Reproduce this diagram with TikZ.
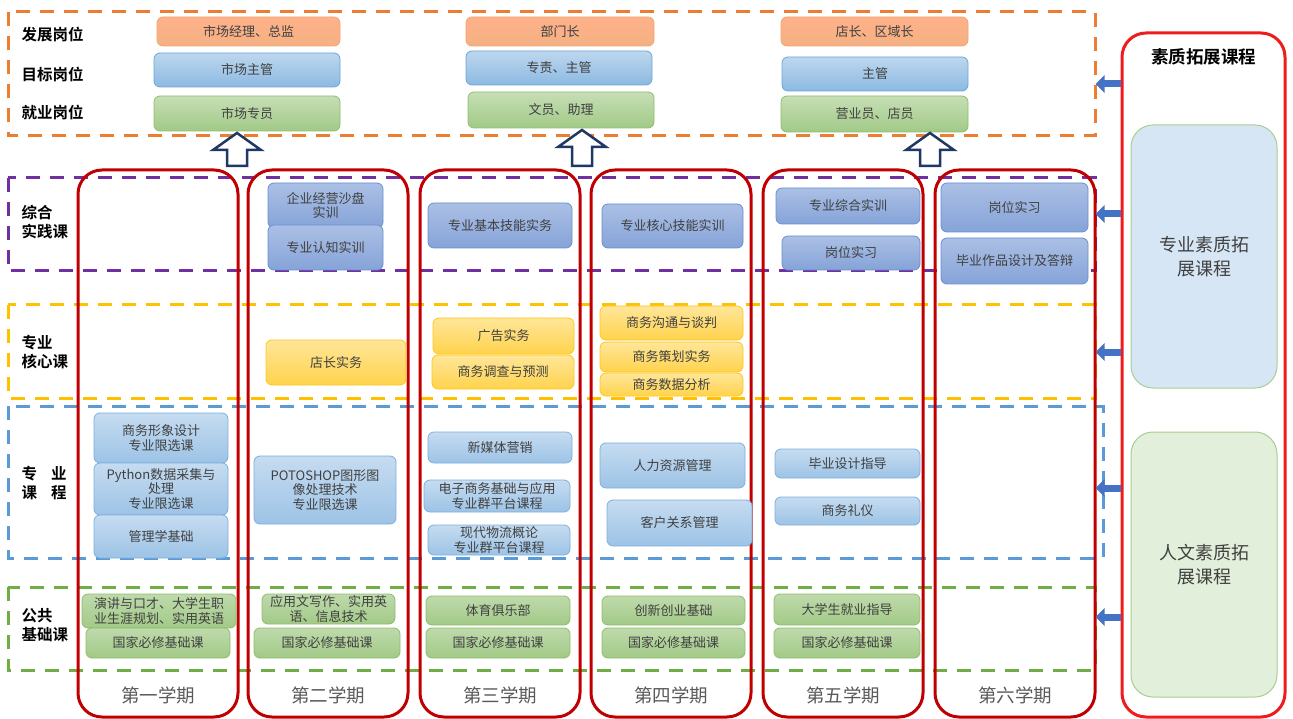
\documentclass[tikz,border=0pt]{standalone}
\usepackage{fontspec}
\setmainfont{Noto Sans CJK SC}[BoldFont={Noto Sans CJK SC Bold}]
\usetikzlibrary{positioning, arrows.meta}

\definecolor{termred}{HTML}{C00000}
\definecolor{extred}{HTML}{EE1C1C}
\definecolor{dashorg}{HTML}{ED7D31}
\definecolor{dashpur}{HTML}{7030A0}
\definecolor{dashyel}{HTML}{FFC000}
\definecolor{dashblu}{HTML}{5B9BD5}
\definecolor{dashgrn}{HTML}{70AD47}
\definecolor{txtgray}{HTML}{404040}
\definecolor{semgray}{HTML}{595959}
\definecolor{arrnavy}{HTML}{1F3864}
\definecolor{arrblue}{HTML}{4472C4}

\begin{document}
\begin{tikzpicture}[x=1pt,y=-1pt]

	% 定义样式
	\tikzset{
		dashbox/.style = {line width=3, dash pattern=on 14 off 10},
		semrect/.style = {draw=termred, line width=3, rounded corners=24,
			minimum width=160, minimum height=547},
		cbox/.style = {rounded corners=6, line width=0.8, align=center,
			text=txtgray, inner sep=1,
			font=\fontsize{13}{14.5}\selectfont},
		jobA/.style = {cbox, draw=dashorg!70, top color=orange!35!pink!90, bottom color=dashorg!60},
		jobB/.style = {cbox, draw=dashblu!90, top color=dashblu!40, bottom color=dashblu!70},
		jobC/.style = {cbox, draw=dashgrn!80, top color=dashgrn!40, bottom color=dashgrn!65},
		prac/.style = {cbox, draw=arrblue!80, top color=arrblue!45, bottom color=arrblue!65},
		core/.style = {cbox, draw=dashyel!90, top color=dashyel!40, bottom color=dashyel!70},
		majr/.style = {cbox, draw=dashblu!80, top color=dashblu!35, bottom color=dashblu!60},
		pubc/.style = {cbox, draw=dashgrn!80, top color=dashgrn!45, bottom color=dashgrn!65},
		rowlab/.style = {anchor=west, align=left, font=\fontsize{15.5}{19}\selectfont\bfseries},
		semlab/.style = {text=semgray, font=\fontsize{18.5}{20}\selectfont},
		hollow/.style = {draw=arrnavy, line width=2.5, fill=white, line join=miter},
		sidearr/.style = {arrblue, line width=7, -{Triangle[length=9,width=17]}}
	}

	\useasboundingbox (0,0) rectangle (1293,719);

	% 分区虚线框
	\draw[dashbox, dashorg] (8,12) rectangle (1095,136);
	\draw[dashbox, dashpur] (8,178) rectangle (1095,271);
	\draw[dashbox, dashyel] (8,305) rectangle (1095,398);
	\draw[dashbox, dashblu] (8,406) rectangle (1103,558);
	\draw[dashbox, dashgrn] (8,587) rectangle (1095,670);

	% 左侧标签
	\node[rowlab] (r1) at (18,35) {发展岗位};
	\node[rowlab] (r2) at (18,74) {目标岗位};
	\node[rowlab] (r3) at (18,113) {就业岗位};
	\node[rowlab] (r4) at (18,222) {综合\\实践课};
	\node[rowlab] (r5) at (18,352) {专业\\核心课};
	\node[rowlab] (r6) at (18,483) {专\hspace{14pt}业\\课\hspace{14pt}程};
	\node[rowlab] (r7) at (18,625) {公共\\基础课};

	% 学期框
	\foreach \i/\xc/\lab in {1/158/第一学期, 2/328/第二学期, 3/500/第三学期,
		4/671/第四学期, 5/843/第五学期, 6/1015/第六学期} {
		\node[semrect] (s\i) at (\xc,443.5) {};
		\node[semlab] (l\i) at ([yshift=23]s\i.south) {\lab};
	}

	% 岗位
	\node[jobA, minimum width=183, minimum height=29] (j11) at (248.5,31.5) {市场经理、总监};
	\node[jobB, minimum width=186, minimum height=34] (j12) at (247,70) {市场主管};
	\node[jobC, minimum width=186, minimum height=35] (j13) at (247,113.5) {市场专员};
	\node[jobA, minimum width=188, minimum height=29] (j21) at (560,31.5) {部门长};
	\node[jobB, minimum width=186, minimum height=34] (j22) at (559,68) {专责、主管};
	\node[jobC, minimum width=186, minimum height=36] (j23) at (561,110) {文员、助理};
	\node[jobA, minimum width=187, minimum height=29] (j31) at (874.5,31.5) {店长、区域长};
	\node[jobB, minimum width=186, minimum height=34] (j32) at (875,74) {主管};
	\node[jobC, minimum width=187, minimum height=36] (j33) at (874.5,114) {营业员、店员};

	% 空心箭头
	\foreach \x/\yt in {237/133, 582/130, 930/133} {
		\draw[hollow] (\x,\yt) -- (\x+24,\yt+17) -- (\x+10,\yt+17) -- (\x+10,166)
		-- (\x-10,166) -- (\x-10,\yt+17) -- (\x-24,\yt+17) -- cycle;
	}

	% 综合实践课
	\node[prac, minimum width=115, minimum height=45] (p21) at (325.5,205.5) {企业经营沙盘\\实训};
	\node[prac, minimum width=115, minimum height=45] (p22) at (325.5,247.5) {专业认知实训};
	\node[prac, minimum width=144, minimum height=45] (p31) at (500,225.5) {专业基本技能实务};
	\node[prac, minimum width=141, minimum height=44] (p41) at (672.5,226) {专业核心技能实训};
	\node[prac, minimum width=144, minimum height=36] (p51) at (848,206) {专业综合实训};
	\node[prac, minimum width=138, minimum height=34] (p52) at (851,253) {岗位实习};
	\node[prac, minimum width=147, minimum height=49] (p61) at (1014.5,207.5) {岗位实习};
	\node[prac, minimum width=147, minimum height=46] (p62) at (1014.5,261) {毕业作品设计及答辩};

	% 专业核心课
	\node[core, minimum width=140, minimum height=45] (k21) at (336,362.5) {店长实务};
	\node[core, minimum width=141, minimum height=36] (k31) at (503.5,336) {广告实务};
	\node[core, minimum width=142, minimum height=34] (k32) at (503,372) {商务调查与预测};
	\node[core, minimum width=143, minimum height=34] (k41) at (671.5,323) {商务沟通与谈判};
	\node[core, minimum width=143, minimum height=30] (k42) at (671.5,357) {商务策划实务};
	\node[core, minimum width=143, minimum height=23] (k43) at (671.5,384.5) {商务数据分析};

	% 专业课程
	\node[majr, minimum width=134, minimum height=50] (m11) at (161,438) {商务形象设计\\专业限选课};
	\node[majr, minimum width=134, minimum height=52] (m12) at (161,489) {Python数据采集与\\处理\\专业限选课};
	\node[majr, minimum width=134, minimum height=43] (m13) at (161,536.5) {管理学基础};
	\node[majr, minimum width=142, minimum height=68] (m21) at (325,490) {POTOSHOP图形图\\像处理技术\\专业限选课};
	\node[majr, minimum width=144, minimum height=31] (m31) at (500,447.5) {新媒体营销};
	\node[majr, minimum width=146, minimum height=32] (m32) at (497,496) {电子商务基础与应用\\专业群平台课程};
	\node[majr, minimum width=142, minimum height=30] (m33) at (499,540) {现代物流概论\\专业群平台课程};
	\node[majr, minimum width=145, minimum height=45] (m41) at (672.5,465.5) {人力资源管理};
	\node[majr, minimum width=145, minimum height=46] (m42) at (679.5,523) {客户关系管理};
	\node[majr, minimum width=145, minimum height=29] (m51) at (847.5,463.5) {毕业设计指导};
	\node[majr, minimum width=145, minimum height=28] (m52) at (847.5,511) {商务礼仪};

	% 公共基础课
	\node[pubc, minimum width=154, minimum height=34] (g11) at (159,611) {演讲与口才、大学生职\\业生涯规划、实用英语};
	\node[pubc, minimum width=133, minimum height=30] (g21) at (328.5,609) {应用文写作、实用英\\语、信息技术};
	\node[pubc, minimum width=144, minimum height=29] (g31) at (498,610.5) {体育俱乐部};
	\node[pubc, minimum width=143, minimum height=29] (g41) at (673.5,610.5) {创新创业基础};
	\node[pubc, minimum width=146, minimum height=31] (g51) at (847,609.5) {大学生就业指导};
	\foreach \i/\xc/\w in {1/158/144, 2/327/146, 3/498/144, 4/673.5/143, 5/847/146} {
		\node[pubc, minimum width=\w, minimum height=30] (g\i2) at (\xc,643) {国家必修基础课};
	}

	% 素质拓展课程
	\node[draw=extred, line width=3, rounded corners=24, minimum width=163, minimum height=684] (ext) at (1203.5,375) {};
	\node[font=\fontsize{17.5}{20}\selectfont\bfseries] (extT) at (1203.5,57) {素质拓展课程};
	\node[draw=dashgrn!60, fill=dashblu!25, rounded corners=22, line width=1,
		minimum width=146, minimum height=263, align=center, text=txtgray,
		font=\fontsize{18}{24}\selectfont] (ext1) at (1204,256.5) {专业素质拓\\展课程};
	\node[draw=dashgrn!60, fill=dashgrn!20, rounded corners=22, line width=1,
		minimum width=146, minimum height=265, align=center, text=txtgray,
		font=\fontsize{18}{24}\selectfont] (ext2) at (1204,564.5) {人文素质拓\\展课程};

	% 蓝色箭头
	\foreach \y in {84, 214, 352, 488, 617} {
		\draw[sidearr] (ext.west |- 0,\y) -- ++(-25,0);
	}

\end{tikzpicture}
\end{document}
